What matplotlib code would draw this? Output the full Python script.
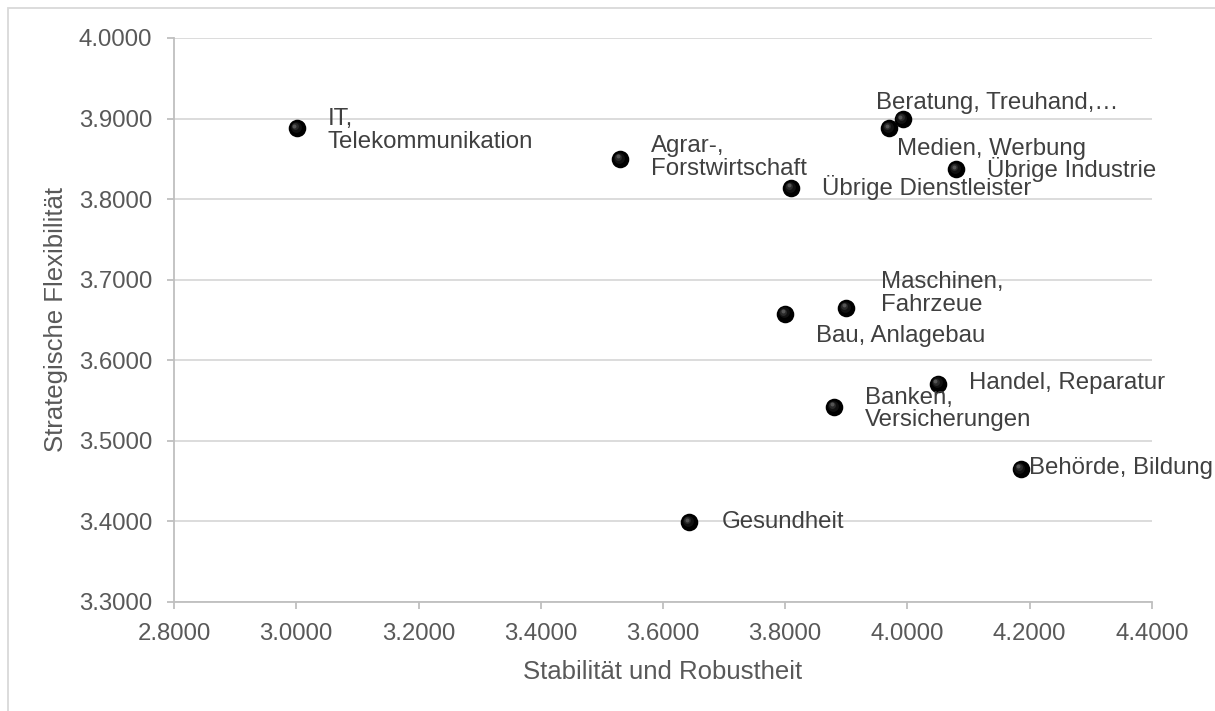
import matplotlib.pyplot as plt
import matplotlib.transforms as mtransforms
from matplotlib.patches import Rectangle

plt.rcParams['font.family'] = ['Liberation Sans', 'DejaVu Sans']

# branch averages: stability/robustness vs strategic flexibility
branchen = ['IT,\nTelekommunikation', 'Agrar-,\nForstwirtschaft', 'Übrige Dienstleister',
            'Beratung, Treuhand,…', 'Medien, Werbung', 'Übrige Industrie',
            'Maschinen,\nFahrzeue', 'Bau, Anlagebau', 'Handel, Reparatur',
            'Banken,\nVersicherungen', 'Behörde, Bildung', 'Gesundheit']
stabilitaet = [3.001, 3.530, 3.810, 3.992, 3.970, 4.080, 3.900, 3.800, 4.050, 3.880, 4.185, 3.643]
flexibilitaet = [3.888, 3.850, 3.814, 3.899, 3.888, 3.837, 3.665, 3.658, 3.571, 3.542, 3.465, 3.399]

# label offsets in pixels (dx to left edge of text, dy to vertical centre)
label_dx = [31, 31, 31, -27, 8, 31, 35, 31, 31, 31, 8, 32]
label_dy = [-2, 1, 0, 16, -21, 0, 14, -22, 1, -2, 1, 0]

x_ticks = [2.8, 3.0, 3.2, 3.4, 3.6, 3.8, 4.0, 4.2, 4.4]
y_ticks = [3.3, 3.4, 3.5, 3.6, 3.7, 3.8, 3.9, 4.0]

W, H = 1215, 711
fig = plt.figure(figsize=(W / 100, H / 100), dpi=100)
ax = fig.add_axes([174 / W, 1 - 602 / H, (1152 - 174) / W, (602 - 38) / H])

# thin frame around the chart area
fig.patches.append(Rectangle((8 / W, -0.1), 1.2, 1.1 - 8 / H, transform=fig.transFigure,
                             fill=False, edgecolor='#d9d9d9', linewidth=1.3))

ax.set_xlim(2.8, 4.4)
ax.set_ylim(3.3, 4.0)
ax.set_xticks(x_ticks)
ax.set_yticks(y_ticks)
ax.set_xticklabels(['%.4f' % v for v in x_ticks])
ax.set_yticklabels(['%.4f' % v for v in y_ticks])
ax.grid(axis='y', color='#d9d9d9', linewidth=1.3)
ax.set_axisbelow(True)
for side in ['top', 'right']:
    ax.spines[side].set_visible(False)
for side in ['left', 'bottom']:
    ax.spines[side].set_color('#bfbfbf')
    ax.spines[side].set_linewidth(1.3)
ax.tick_params(colors='#bfbfbf', labelcolor='#595959', labelsize=17.3, length=5, width=1.3)
ax.tick_params(axis='x', pad=10)
ax.tick_params(axis='y', pad=10.5)

ax.set_xlabel('Stabilität und Robustheit', fontsize=18.5, color='#595959', labelpad=11)
ax.set_ylabel('Strategische Flexibilität', fontsize=18.5, color='#595959', labelpad=8)

# shaded spheres: dark base plus a faint highlight towards the upper left
ax.scatter(stabilitaet, flexibilitaet, s=160, color='#000000', zorder=3, linewidths=0)
shades = [(60, '#111111', 1.2), (25, '#2a2a2a', 2.0), (8, '#555555', 2.6)]
for size, col, off in shades:
    tr = mtransforms.offset_copy(ax.transData, fig=fig, x=-off, y=off, units='dots')
    ax.scatter(stabilitaet, flexibilitaet, s=size, color=col, zorder=4, linewidths=0, transform=tr)

for name, x, y, dx, dy in zip(branchen, stabilitaet, flexibilitaet, label_dx, label_dy):
    ax.annotate(name, (x, y), xytext=(dx * 0.72, dy * 0.72), textcoords='offset points',
                ha='left', va='center', fontsize=17.3, color='#404040', zorder=5,
                linespacing=1.05)

fig.savefig('out.png', dpi=100)
